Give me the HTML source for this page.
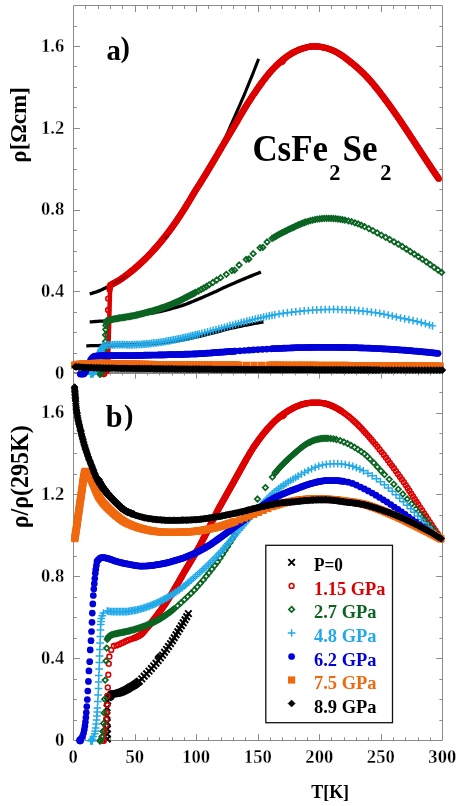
<!DOCTYPE html>
<html><head><meta charset="utf-8"><title>CsFe2Se2 resistivity</title>
<style>
html,body{margin:0;padding:0;background:#fff;}
svg{display:block;font-family:"Liberation Serif",serif;font-weight:bold;will-change:transform;}
</style></head><body>
<svg width="457" height="806" viewBox="0 0 457 806">
<rect width="457" height="806" fill="#fff"/>
<defs>
<marker id="mr" markerUnits="userSpaceOnUse" markerWidth="10" markerHeight="10" refX="5.0" refY="5.0" viewBox="0 0 10 10" overflow="visible"><circle cx="5" cy="5" r="2.4" fill="none" stroke="#dc0000" stroke-width="1.55"/></marker>
<marker id="mg" markerUnits="userSpaceOnUse" markerWidth="10" markerHeight="10" refX="5.0" refY="5.0" viewBox="0 0 10 10" overflow="visible"><path d="M5 2.3 L7.7 5 L5 7.7 L2.3 5 Z" fill="none" stroke="#0b6422" stroke-width="1.7"/></marker>
<marker id="mc" markerUnits="userSpaceOnUse" markerWidth="10" markerHeight="10" refX="5.0" refY="5.0" viewBox="0 0 10 10" overflow="visible"><path d="M5 1.15 V8.85 M1.15 5 H8.85" fill="none" stroke="#22a9e8" stroke-width="1.45"/></marker>
<marker id="mb" markerUnits="userSpaceOnUse" markerWidth="10" markerHeight="10" refX="5.0" refY="5.0" viewBox="0 0 10 10" overflow="visible"><circle cx="5" cy="5" r="3.35" fill="#0000d8"/></marker>
<marker id="mo" markerUnits="userSpaceOnUse" markerWidth="10" markerHeight="10" refX="5.0" refY="5.0" viewBox="0 0 10 10" overflow="visible"><rect x="1.4" y="1.4" width="7.2" height="7.2" fill="#f0690f"/></marker>
<marker id="mk" markerUnits="userSpaceOnUse" markerWidth="10" markerHeight="10" refX="5.0" refY="5.0" viewBox="0 0 10 10" overflow="visible"><path d="M5 1.65 L8.35 5 L5 8.35 L1.65 5 Z" fill="#000000" stroke="#000000" stroke-width="1.0" stroke-linejoin="round"/></marker>
<marker id="mx" markerUnits="userSpaceOnUse" markerWidth="10" markerHeight="10" refX="5.0" refY="5.0" viewBox="0 0 10 10" overflow="visible"><path d="M1.75 1.75 L8.25 8.25 M8.25 1.75 L1.75 8.25" fill="none" stroke="#000000" stroke-width="2.0"/></marker>
</defs>
<path d="M73.5 5.5H442.5V740.5H73.5ZM73.5 373.5H442.5M73.5 372.5H442.5M85.50 5.6v3.3M85.50 373.8v-3.3M85.50 372.1v3.3M85.50 740.6v-3.3M98.50 5.6v3.3M98.50 373.8v-3.3M98.50 372.1v3.3M98.50 740.6v-3.3M110.50 5.6v3.3M110.50 373.8v-3.3M110.50 372.1v3.3M110.50 740.6v-3.3M122.50 5.6v3.3M122.50 373.8v-3.3M122.50 372.1v3.3M122.50 740.6v-3.3M135.50 5.6v6.5M135.50 373.8v-6.5M135.50 372.1v6.5M135.50 740.6v-6.5M147.50 5.6v3.3M147.50 373.8v-3.3M147.50 372.1v3.3M147.50 740.6v-3.3M159.50 5.6v3.3M159.50 373.8v-3.3M159.50 372.1v3.3M159.50 740.6v-3.3M172.50 5.6v3.3M172.50 373.8v-3.3M172.50 372.1v3.3M172.50 740.6v-3.3M184.50 5.6v3.3M184.50 373.8v-3.3M184.50 372.1v3.3M184.50 740.6v-3.3M196.50 5.6v6.5M196.50 373.8v-6.5M196.50 372.1v6.5M196.50 740.6v-6.5M208.50 5.6v3.3M208.50 373.8v-3.3M208.50 372.1v3.3M208.50 740.6v-3.3M221.50 5.6v3.3M221.50 373.8v-3.3M221.50 372.1v3.3M221.50 740.6v-3.3M233.50 5.6v3.3M233.50 373.8v-3.3M233.50 372.1v3.3M233.50 740.6v-3.3M245.50 5.6v3.3M245.50 373.8v-3.3M245.50 372.1v3.3M245.50 740.6v-3.3M258.50 5.6v6.5M258.50 373.8v-6.5M258.50 372.1v6.5M258.50 740.6v-6.5M270.50 5.6v3.3M270.50 373.8v-3.3M270.50 372.1v3.3M270.50 740.6v-3.3M282.50 5.6v3.3M282.50 373.8v-3.3M282.50 372.1v3.3M282.50 740.6v-3.3M295.50 5.6v3.3M295.50 373.8v-3.3M295.50 372.1v3.3M295.50 740.6v-3.3M307.50 5.6v3.3M307.50 373.8v-3.3M307.50 372.1v3.3M307.50 740.6v-3.3M319.50 5.6v6.5M319.50 373.8v-6.5M319.50 372.1v6.5M319.50 740.6v-6.5M331.50 5.6v3.3M331.50 373.8v-3.3M331.50 372.1v3.3M331.50 740.6v-3.3M344.50 5.6v3.3M344.50 373.8v-3.3M344.50 372.1v3.3M344.50 740.6v-3.3M356.50 5.6v3.3M356.50 373.8v-3.3M356.50 372.1v3.3M356.50 740.6v-3.3M368.50 5.6v3.3M368.50 373.8v-3.3M368.50 372.1v3.3M368.50 740.6v-3.3M381.50 5.6v6.5M381.50 373.8v-6.5M381.50 372.1v6.5M381.50 740.6v-6.5M393.50 5.6v3.3M393.50 373.8v-3.3M393.50 372.1v3.3M393.50 740.6v-3.3M405.50 5.6v3.3M405.50 373.8v-3.3M405.50 372.1v3.3M405.50 740.6v-3.3M418.50 5.6v3.3M418.50 373.8v-3.3M418.50 372.1v3.3M418.50 740.6v-3.3M430.50 5.6v3.3M430.50 373.8v-3.3M430.50 372.1v3.3M430.50 740.6v-3.3M73.6 353.50h3.3M442.7 353.50h-3.3M73.6 720.50h3.3M442.7 720.50h-3.3M73.6 332.50h3.3M442.7 332.50h-3.3M73.6 699.50h3.3M442.7 699.50h-3.3M73.6 312.50h3.3M442.7 312.50h-3.3M73.6 679.50h3.3M442.7 679.50h-3.3M73.6 291.50h6.5M442.7 291.50h-6.5M73.6 658.50h6.5M442.7 658.50h-6.5M73.6 271.50h3.3M442.7 271.50h-3.3M73.6 638.50h3.3M442.7 638.50h-3.3M73.6 251.50h3.3M442.7 251.50h-3.3M73.6 617.50h3.3M442.7 617.50h-3.3M73.6 230.50h3.3M442.7 230.50h-3.3M73.6 597.50h3.3M442.7 597.50h-3.3M73.6 210.50h6.5M442.7 210.50h-6.5M73.6 576.50h6.5M442.7 576.50h-6.5M73.6 189.50h3.3M442.7 189.50h-3.3M73.6 556.50h3.3M442.7 556.50h-3.3M73.6 169.50h3.3M442.7 169.50h-3.3M73.6 535.50h3.3M442.7 535.50h-3.3M73.6 148.50h3.3M442.7 148.50h-3.3M73.6 515.50h3.3M442.7 515.50h-3.3M73.6 128.50h6.5M442.7 128.50h-6.5M73.6 494.50h6.5M442.7 494.50h-6.5M73.6 107.50h3.3M442.7 107.50h-3.3M73.6 474.50h3.3M442.7 474.50h-3.3M73.6 87.50h3.3M442.7 87.50h-3.3M73.6 453.50h3.3M442.7 453.50h-3.3M73.6 66.50h3.3M442.7 66.50h-3.3M73.6 433.50h3.3M442.7 433.50h-3.3M73.6 46.50h6.5M442.7 46.50h-6.5M73.6 413.50h6.5M442.7 413.50h-6.5M73.6 26.50h3.3M442.7 26.50h-3.3M73.6 392.50h3.3M442.7 392.50h-3.3" fill="none" stroke="#8a8a8a" stroke-width="1"/>
<text x="64.3" y="51.8" font-size="18.8" text-anchor="end" fill="#000" textLength="23.2" lengthAdjust="spacingAndGlyphs" stroke="#fff" stroke-width="0.3">1.6</text>
<text x="64.3" y="418.3" font-size="18.8" text-anchor="end" fill="#000" textLength="23.2" lengthAdjust="spacingAndGlyphs" stroke="#fff" stroke-width="0.3">1.6</text>
<text x="64.3" y="133.6" font-size="18.8" text-anchor="end" fill="#000" textLength="23.2" lengthAdjust="spacingAndGlyphs" stroke="#fff" stroke-width="0.3">1.2</text>
<text x="64.3" y="500.2" font-size="18.8" text-anchor="end" fill="#000" textLength="23.2" lengthAdjust="spacingAndGlyphs" stroke="#fff" stroke-width="0.3">1.2</text>
<text x="64.3" y="215.4" font-size="18.8" text-anchor="end" fill="#000" textLength="23.2" lengthAdjust="spacingAndGlyphs" stroke="#fff" stroke-width="0.3">0.8</text>
<text x="64.3" y="582.1" font-size="18.8" text-anchor="end" fill="#000" textLength="23.2" lengthAdjust="spacingAndGlyphs" stroke="#fff" stroke-width="0.3">0.8</text>
<text x="64.3" y="297.2" font-size="18.8" text-anchor="end" fill="#000" textLength="23.2" lengthAdjust="spacingAndGlyphs" stroke="#fff" stroke-width="0.3">0.4</text>
<text x="64.3" y="664" font-size="18.8" text-anchor="end" fill="#000" textLength="23.2" lengthAdjust="spacingAndGlyphs" stroke="#fff" stroke-width="0.3">0.4</text>
<text x="64.3" y="379.1" font-size="18.8" text-anchor="end" fill="#000" textLength="9.4" lengthAdjust="spacingAndGlyphs" stroke="#fff" stroke-width="0.3">0</text>
<text x="64.3" y="745.9" font-size="18.8" text-anchor="end" fill="#000" textLength="9.4" lengthAdjust="spacingAndGlyphs" stroke="#fff" stroke-width="0.3">0</text>
<text x="73.2" y="763.2" font-size="18.8" text-anchor="middle" fill="#000" textLength="9.3" lengthAdjust="spacingAndGlyphs" stroke="#fff" stroke-width="0.3">0</text>
<text x="134.7" y="763.2" font-size="18.8" text-anchor="middle" fill="#000" textLength="18.6" lengthAdjust="spacingAndGlyphs" stroke="#fff" stroke-width="0.3">50</text>
<text x="196.2" y="763.2" font-size="18.8" text-anchor="middle" fill="#000" textLength="27.9" lengthAdjust="spacingAndGlyphs" stroke="#fff" stroke-width="0.3">100</text>
<text x="257.8" y="763.2" font-size="18.8" text-anchor="middle" fill="#000" textLength="27.9" lengthAdjust="spacingAndGlyphs" stroke="#fff" stroke-width="0.3">150</text>
<text x="319.3" y="763.2" font-size="18.8" text-anchor="middle" fill="#000" textLength="27.9" lengthAdjust="spacingAndGlyphs" stroke="#fff" stroke-width="0.3">200</text>
<text x="380.8" y="763.2" font-size="18.8" text-anchor="middle" fill="#000" textLength="27.9" lengthAdjust="spacingAndGlyphs" stroke="#fff" stroke-width="0.3">250</text>
<text x="442.3" y="763.2" font-size="18.8" text-anchor="middle" fill="#000" textLength="27.9" lengthAdjust="spacingAndGlyphs" stroke="#fff" stroke-width="0.3">300</text>
<text x="330.2" y="798.4" font-size="18.8" text-anchor="middle" fill="#000" textLength="37.8" lengthAdjust="spacingAndGlyphs">T[K]</text>
<text x="25.9" y="124.9" font-size="24" text-anchor="middle" fill="#000" textLength="75.5" lengthAdjust="spacingAndGlyphs" transform="rotate(-90 25.9 124.9)">&#961;[&#937;cm]</text>
<text x="27.6" y="476.8" font-size="25.2" text-anchor="middle" fill="#000" textLength="103" lengthAdjust="spacingAndGlyphs" transform="rotate(-90 27.6 476.8)">&#961;/&#961;(295K)</text>
<text x="106.4" y="59.9" font-size="30" text-anchor="start" fill="#000" textLength="14.4" lengthAdjust="spacingAndGlyphs">a</text>
<text x="120.6" y="57.3" font-size="29.5" text-anchor="start" fill="#000" textLength="9.4" lengthAdjust="spacingAndGlyphs">)</text>
<text x="105.8" y="427.2" font-size="31" text-anchor="start" fill="#000" textLength="16.8" lengthAdjust="spacingAndGlyphs">b</text>
<text x="124" y="424.8" font-size="29.5" text-anchor="start" fill="#000" textLength="9.4" lengthAdjust="spacingAndGlyphs">)</text>
<text x="252.4" y="160.8" font-size="37.5" text-anchor="start" fill="#000" textLength="75.6" lengthAdjust="spacingAndGlyphs">CsFe</text>
<text x="329.3" y="179.9" font-size="22.5" text-anchor="start" fill="#000" textLength="11.2" lengthAdjust="spacingAndGlyphs">2</text>
<text x="342.6" y="160.8" font-size="37.5" text-anchor="start" fill="#000" textLength="35" lengthAdjust="spacingAndGlyphs">Se</text>
<text x="380.2" y="179.9" font-size="22.5" text-anchor="start" fill="#000" textLength="11.2" lengthAdjust="spacingAndGlyphs">2</text>
<polyline points="89.7,293.8 91.7,293.3 93.7,292.7 95.7,292.1 97.7,291.4 99.7,290.6 101.7,289.8 103.7,288.8 105.7,287.8 107.7,286.7 108,286.5" fill="none" stroke="#000" stroke-width="3.3" stroke-linecap="butt" stroke-linejoin="round"/>
<polyline points="224,141 226,136.4 228,131.8 230,127.2 232,122.7 234,118.2 236,113.7 238,109.1 240,104.6 242,99.9 244,95.3 246,90.5 248,85.6 250,80.7 252,75.8 254,70.7 256,65.6 258,60.5 258.6,58.9" fill="none" stroke="#000" stroke-width="3.1" stroke-linecap="butt" stroke-linejoin="round"/>
<polyline points="89.7,321.9 91.7,321.8 93.7,321.6 95.7,321.5 97.7,321.4 99.7,321.2 101.7,321.1 103.7,321 105.7,320.8 106,320.8" fill="none" stroke="#000" stroke-width="3.3" stroke-linecap="butt" stroke-linejoin="round"/>
<polyline points="150,313.5 152,313.2 154,312.8 156,312.4 158,312 160,311.6 162,311.1 164,310.6 166,310.1 168,309.6 170,309.1 172,308.5 174,308 176,307.4 178,306.8 180,306.2 182,305.6 184,304.9 186,304.2 188,303.4 190,302.6 192,301.8 194,301 196,300.1 198,299.3 200,298.4 202,297.6 204,296.7 206,295.8 208,295 210,294.1 212,293.2 214,292.3 216,291.4 218,290.4 220,289.5 222,288.6 224,287.6 226,286.7 228,285.8 230,284.9 232,284 234,283.2 236,282.3 238,281.4 240,280.6 242,279.7 244,278.9 246,278.1 248,277.2 250,276.4 252,275.6 254,274.8 256,274 258,273.2 260,272.4 260.9,272" fill="none" stroke="#000" stroke-width="3.3" stroke-linecap="butt" stroke-linejoin="round"/>
<polyline points="86.3,345.8 88.3,345.8 90.3,345.7 92.3,345.7 94.3,345.7 96.3,345.6 98.3,345.6 100.3,345.5 102.3,345.5 104.3,345.5 106.3,345.4 108.3,345.4 110.3,345.3 112.3,345.3 114.3,345.2 116.3,345.2 118.3,345.1 120.3,345.1 122.3,345 124.3,344.9 126.3,344.9 128.3,344.8 130.3,344.7 132.3,344.7 134.3,344.6 136.3,344.5 138.3,344.4 140.3,344.3 142.3,344.2 144.3,344.1 146.3,344 148.3,343.9 150.3,343.8 152.3,343.6 154.3,343.5 156.3,343.3 158.3,343.1 160.3,342.9 162.3,342.7 164.3,342.5 166.3,342.2 168.3,342 170.3,341.7 172.3,341.4 174.3,341.1 176.3,340.9 178.3,340.6 180.3,340.3 182.3,339.9 184.3,339.6 186.3,339.2 188.3,338.8 190.3,338.4 192.3,338 194.3,337.5 196.3,337 198.3,336.6 200.3,336.1 202.3,335.6 204.3,335.2 206.3,334.7 208.3,334.2 210.3,333.7 212.3,333.2 214.3,332.7 216.3,332.2 218.3,331.6 220.3,331.1 222.3,330.5 224.3,330 226.3,329.5 228.3,329 230.3,328.5 232.3,328 234.3,327.6 236.3,327.2 238.3,326.7 240.3,326.3 242.3,325.9 244.3,325.5 246.3,325.1 248.3,324.7 250.3,324.3 252.3,323.9 254.3,323.5 256.3,323.1 258.3,322.8 260.3,322.4 262.3,322.1 263.5,321.9" fill="none" stroke="#000" stroke-width="3.3" stroke-linecap="butt" stroke-linejoin="round"/>
<polyline points="107.3,372 108,362 108.7,340 109.3,318 110,292 110.4,287" fill="none" stroke="#dc0000" stroke-width="4.5" stroke-linecap="round"/>
<polyline points="103.2,374 103.8,374 104.3,373.3 105.2,371.8 106,369.5 106.4,366.5 107.5,358 107.6,347 107.8,335 107.9,322 108.1,310 108.2,298.6 109.6,289.5 109.8,287.2 110.2,285.2 111.2,284.7 112.1,284.3 113,283.8 113.9,283.3 114.8,282.8 115.7,282.3 116.6,281.8 117.5,281.3 118.4,280.8 119.3,280.2 120.2,279.6 121.1,279 122,278.4 122.9,277.7 123.8,277.1 124.7,276.4 125.6,275.8 126.5,275.1 127.3,274.5 128.1,273.9 128.9,273.2 129.7,272.6 130.5,272 131.3,271.3 132.1,270.7 132.9,270 133.7,269.4 134.5,268.7 135.3,268 136.1,267.3 136.9,266.6 137.7,265.9 138.5,265.2 139.3,264.5 140.1,263.7 140.9,263 141.7,262.3 142.5,261.5 143.3,260.7 144.1,260 144.9,259.2 145.7,258.4 146.5,257.6 147.3,256.8 148.1,256 148.8,255.3 149.5,254.5 150.2,253.8 150.9,253.1 151.6,252.3 152.3,251.6 153,250.8 153.7,250 154.4,249.2 155.1,248.5 155.8,247.7 156.5,246.9 157.2,246.1 157.9,245.3 158.6,244.4 159.3,243.6 160,242.8 160.7,241.9 161.4,241.1 162.1,240.2 162.8,239.4 163.5,238.5 164.2,237.6 164.9,236.7 165.6,235.8 166.3,234.9 167,234 167.7,233.1 168.4,232.2 169.1,231.3 169.7,230.5 170.3,229.6 170.9,228.8 171.5,228 172.1,227.2 172.7,226.3 173.3,225.5 173.9,224.6 174.5,223.8 175.1,222.9 175.7,222.1 176.3,221.2 176.9,220.3 177.5,219.4 178.1,218.5 178.7,217.6 179.3,216.7 179.9,215.8 180.5,214.9 181.1,214 181.7,213.1 182.3,212.1 182.9,211.2 183.5,210.3 184.1,209.3 184.7,208.4 185.3,207.4 185.9,206.5 186.5,205.5 187.1,204.5 187.7,203.5 188.3,202.6 188.9,201.6 189.5,200.6 190.1,199.6 190.7,198.6 191.3,197.5 191.9,196.5 192.5,195.5 193.1,194.5 193.7,193.5 194.3,192.5 194.9,191.5 195.5,190.5 196.1,189.5 196.7,188.6 197.3,187.6 197.9,186.7 198.5,185.8 199.1,184.8 199.7,183.9 200.3,182.9 200.9,182 201.5,181 202.1,180.1 202.7,179.1 203.3,178.1 203.9,177.1 204.5,176.2 205.1,175.2 205.7,174.2 206.3,173.2 206.9,172.2 207.5,171.2 208.1,170.2 208.7,169.2 209.3,168.2 209.9,167.2 210.5,166.2 211.1,165.2 211.7,164.2 212.3,163.2 212.9,162.2 213.5,161.2 214.1,160.2 214.7,159.2 215.3,158.2 215.9,157.1 216.5,156.1 217.1,155.1 217.7,154.1 218.3,153 218.9,152 219.5,151 220.1,149.9 220.7,148.9 221.3,147.9 221.9,146.8 222.5,145.8 223.1,144.8 223.7,143.8 224.3,142.7 224.9,141.7 225.5,140.7 226.1,139.7 226.7,138.7 227.3,137.7 227.9,136.7 228.5,135.7 229.1,134.7 229.7,133.7 230.3,132.7 230.9,131.7 231.5,130.7 232.1,129.7 232.7,128.7 233.3,127.7 233.9,126.7 234.5,125.7 235.1,124.7 235.7,123.7 236.3,122.6 236.8,121.8 237.3,120.9 237.8,120 238.3,119.1 238.8,118.2 239.3,117.3 239.8,116.5 240.4,115.4 241,114.4 241.6,113.4 242.2,112.4 242.8,111.4 243.4,110.4 244,109.4 244.6,108.4 245.2,107.4 245.8,106.4 246.4,105.5 247,104.5 247.6,103.6 248.2,102.6 248.8,101.7 249.4,100.8 250,99.9 250.6,98.9 251.2,98 251.8,97.1 252.4,96.2 253,95.3 253.6,94.4 254.2,93.6 254.8,92.7 255.4,91.8 256,90.9 256.6,90 257.2,89.1 257.8,88.3 258.4,87.4 259,86.5 259.6,85.7 260.2,84.9 260.8,84 261.4,83.2 262,82.4 262.6,81.6 263.3,80.6 264,79.7 264.7,78.8 265.4,77.9 266.1,77 266.8,76.1 267.5,75.3 268.2,74.4 268.9,73.6 269.6,72.7 270.3,71.9 271,71.1 271.7,70.3 272.4,69.6 273.1,68.8 273.8,68.1 274.6,67.3 275.4,66.5 276.2,65.7 277,64.9 277.8,64.2 278.6,63.4 279.4,62.7 280.2,62 281,61.3 281.8,60.6 282.6,59.9 283.4,59.2 284.2,58.6 285,58 285.8,57.4 286.6,56.8 287.5,56.1 288.4,55.5 289.3,54.9 290.2,54.3 291.1,53.7 292,53.2 292.9,52.7 293.8,52.2 294.7,51.7 295.6,51.3 296.6,50.8 297.6,50.4 298.6,49.9 299.6,49.5 300.6,49.2 301.6,48.8 302.6,48.5 303.6,48.2 304.6,47.9 305.6,47.6 306.6,47.3 307.6,47.1 308.6,46.9 309.6,46.7 310.6,46.5 311.6,46.4 312.6,46.4 313.6,46.4 314.6,46.4 315.6,46.4 316.6,46.4 317.6,46.4 318.6,46.5 319.6,46.7 320.6,46.8 321.6,47 322.6,47.2 323.6,47.4 324.6,47.6 325.6,47.9 326.6,48.1 327.6,48.4 328.6,48.8 329.6,49.1 330.6,49.5 331.6,49.9 332.6,50.3 333.6,50.7 334.6,51.2 335.5,51.6 336.4,52.1 337.3,52.6 338.2,53.1 339.1,53.7 340,54.2 340.9,54.8 341.8,55.4 342.7,56 343.6,56.6 344.5,57.3 345.4,58 346.2,58.6 347,59.2 347.8,59.8 348.6,60.5 349.4,61.1 350.2,61.7 351,62.4 351.8,63 352.6,63.6 353.4,64.3 354.2,64.9 355,65.6 355.8,66.3 356.6,67 357.4,67.7 358.2,68.4 359,69.1 359.8,69.9 360.6,70.6 361.4,71.4 362.2,72.2 363,72.9 363.8,73.7 364.6,74.5 365.3,75.3 366,76 366.7,76.7 367.4,77.5 368.1,78.2 368.8,79 369.5,79.8 370.2,80.5 370.9,81.3 371.6,82.2 372.3,83 373,83.8 373.7,84.7 374.4,85.5 375.1,86.4 375.8,87.2 376.5,88.1 377.2,89 377.9,89.9 378.6,90.7 379.3,91.6 380,92.5 380.7,93.4 381.4,94.4 382.1,95.3 382.8,96.2 383.5,97.1 384.2,98.1 384.8,98.9 385.4,99.7 386,100.5 386.6,101.3 387.2,102.1 387.8,102.9 388.4,103.8 389,104.6 389.6,105.4 390.2,106.3 390.8,107.1 391.4,107.9 392,108.8 392.6,109.6 393.2,110.5 393.8,111.3 394.4,112.2 395,113.1 395.6,113.9 396.2,114.8 396.8,115.6 397.4,116.5 398,117.4 398.6,118.3 399.2,119.1 399.8,120 400.4,120.9 401,121.8 401.6,122.7 402.2,123.6 402.8,124.5 403.4,125.4 404,126.3 404.6,127.2 405.2,128.1 405.8,129 406.4,129.9 407,130.8 407.6,131.7 408.2,132.6 408.8,133.5 409.4,134.4 410,135.3 410.6,136.3 411.2,137.2 411.8,138.1 412.4,139 413,139.9 413.6,140.8 414.2,141.8 414.8,142.7 415.4,143.6 416,144.5 416.6,145.4 417.2,146.3 417.8,147.3 418.4,148.2 419,149.1 419.6,150 420.2,150.9 420.8,151.8 421.4,152.8 422,153.7 422.6,154.6 423.2,155.5 423.8,156.4 424.4,157.3 425,158.2 425.6,159.2 426.2,160.1 426.8,161 427.4,161.9 428,162.8 428.6,163.7 429.2,164.6 429.8,165.5 430.4,166.4 431,167.3 431.6,168.2 432.2,169.1 432.8,170 433.4,170.9 434,171.8 434.6,172.7 435.2,173.5 435.8,174.4 436.4,175.3 437,176.2 437.6,177.1 438.2,177.9 438.8,178.8 281.6,62.1 282.6,61.2 283.4,60" fill="none" stroke="none" marker-start="url(#mr)" marker-mid="url(#mr)" marker-end="url(#mr)"/>
<path d="M112 281.7l3 3m0 -3l-3 3 M114.5 280.5l3 3m0 -3l-3 3 M117 279.3l3 3m0 -3l-3 3 M119.5 278l3 3m0 -3l-3 3 M122 276.5l3 3m0 -3l-3 3 M124.5 274.7l3 3m0 -3l-3 3 M164.1 236.3l3 3m0 -3l-3 3 M165.9 235.1l3 3m0 -3l-3 3" fill="none" stroke="#300" stroke-width="0.5"/>
<polyline points="99.8,374 100.4,374 100.6,373.5 101.8,372 103,369.5 104,366 104.8,361 105.2,354.5 105.4,348 105.5,341.5 105.5,335 105.7,329.5 105.9,325.5 106.2,322.8 106.5,321 107.7,320.6 108.9,320.3 110.1,320 111.3,319.7 112.5,319.4 113.7,319.1 114.9,318.9 116.1,318.7 117.3,318.5 118.5,318.2 119.7,318 120.9,317.8 122.1,317.6 123.3,317.5 124.5,317.3 125.7,317.1 126.9,316.9 128.1,316.7 129.3,316.5 130.5,316.3 131.7,316 132.9,315.8 134.1,315.6 135.3,315.3 136.5,315 137.7,314.8 138.9,314.5 140.1,314.2 141.3,313.9 142.5,313.6 143.7,313.3 144.9,312.9 146.1,312.6 147.3,312.3 148.5,312 149.7,311.7 150.9,311.4 152.1,311.1 153.3,310.7 154.5,310.4 155.7,310 156.9,309.6 158.1,309.2 159.3,308.8 160.5,308.4 161.7,308 162.9,307.6 164.1,307.2 165.3,306.7 166.5,306.3 167.7,305.8 168.9,305.3 170.1,304.9 171.3,304.4 172.5,303.9 173.7,303.4 174.8,302.9 175.9,302.4 177,301.9 178.1,301.4 179.2,300.9 180.3,300.3 181.4,299.8 182.5,299.3 183.6,298.7 184.7,298.1 185.8,297.6 186.9,297 188,296.4 189.1,295.8 190.2,295.2 191.3,294.7 192.4,294.1 193.5,293.6 194.6,293 195.7,292.4 198.4,291 201.1,289.5 203.8,288 206.4,286.5 209,284.9 212.8,282.5 216.7,280 220.6,277.7 226.3,274.3 231.9,270.6 234.6,270.2 239.1,265 246.2,259.4 248.9,259 253.2,253.7 260.1,247.8 262.8,247.4 267.1,242 272.1,238.4 273.5,237.6 274.9,236.8 276.3,236 277.7,235.2 279.1,234.4 280.5,233.7 281.9,232.9 283.3,232.2 284.7,231.5 286.1,230.8 287.5,230.1 288.9,229.4 290.3,228.7 291.7,228.1 293.1,227.5 294.5,226.8 295.9,226.1 297.3,225.4 298.7,224.8 300.1,224.2 301.5,223.7 302.9,223.1 304.4,222.5 305.9,222 308.1,221.3 310.4,220.7 312.7,220.1 315,219.6 317.3,219.2 319.6,218.9 321.9,218.6 324.2,218.4 326.5,218.4 328.8,218.3 331.1,218.4 333.4,218.5 335.7,218.7 338,219 340.3,219.3 342.6,219.7 344.9,220.1 348.3,220.9 351.6,221.7 354.9,222.8 358.1,223.9 361.3,225.2 364.5,226.6 368.8,228.6 373,230.7 377.2,232.9 381.4,235.2 385.6,237.3 389.8,239.5 394,241.8 398.2,244.1 402.3,246.5 406.3,249 410.3,251.5 414.3,254.1 418.3,256.6 422.3,259.2 426.3,261.8 430.2,264.6 434.1,267.3 438,270 441.6,272.4" fill="none" stroke="none" marker-start="url(#mg)" marker-mid="url(#mg)" marker-end="url(#mg)"/>
<polyline points="90.6,374 91.5,374 92.4,374 93,373.5 93.8,372.5 94.5,371.4 95.2,370.3 95.6,369.1 96.1,367.8 96.5,366.6 96.9,365.4 97.2,364.1 97.6,362.9 97.9,361.6 98.2,360.3 98.6,359.1 98.9,357.8 99.2,356.6 99.5,355.3 99.8,354 100.1,352.8 100.5,351.5 100.9,350.3 101.4,349.1 102,347.9 102.7,346.9 104,345.6 105.7,345.4 107.4,345.2 109.1,345.1 110.8,345 112.5,344.9 114.2,344.8 115.9,344.7 117.6,344.7 119.3,344.7 121,344.6 122.7,344.6 124.4,344.7 126.1,344.7 127.8,344.8 129.5,344.8 131.2,344.8 132.9,344.7 134.6,344.7 136.3,344.6 138,344.5 139.7,344.5 141.4,344.3 143.1,344.2 144.8,344.1 146.5,343.9 148.2,343.8 149.9,343.6 151.6,343.4 153.3,343.2 155,343 156.7,342.8 158.4,342.5 160.1,342.3 161.8,342 163.5,341.8 165.2,341.5 166.9,341.2 168.6,340.9 170.3,340.6 172,340.2 173.7,339.9 175.4,339.6 177.1,339.2 178.8,338.9 180.5,338.5 182.2,338.1 183.9,337.7 185.6,337.4 187.3,337 189,336.6 190.7,336.2 192.4,335.7 194.1,335.3 195.8,334.9 197.5,334.5 199.2,334 202,333.3 204.8,332.6 207.6,331.8 210.4,331.1 213.2,330.3 216,329.6 218.8,328.8 221.6,328 224.4,327.3 227.2,326.5 230,325.7 232.8,325 235.6,324.2 238.4,323.5 241.2,322.7 244,322 246.8,321.2 249.6,320.5 252.4,319.8 255.2,319.1 258,318.4 260.8,317.8 263.6,317.1 266.4,316.5 269.2,315.9 272,315.3 274.8,314.8 279,314 283.2,313.3 287.4,312.7 291.6,312.2 295.8,311.7 300,311.3 304.2,310.8 308.4,310.5 312.6,310.1 316.8,309.9 321,309.7 325.2,309.5 329.4,309.5 333.6,309.4 337.8,309.5 342,309.6 346.2,309.8 350.4,310 354.6,310.3 358.8,310.7 363,311.1 367.2,311.5 371.4,312.1 375.6,312.7 379.8,313.4 384,314.2 388.2,315.1 392.3,316 396.4,317 400.5,318 404.7,318.8 408.9,319.7 413.1,320.6 417.2,321.5 421.3,322.6 425.4,323.7 429.5,325 432.5,325.9" fill="none" stroke="none" marker-start="url(#mc)" marker-mid="url(#mc)" marker-end="url(#mc)"/>
<polyline points="80.2,374 81,374 81.9,374 82.7,374 83.6,374 84.5,373.3 85.6,371.8 86.6,369.8 87.6,367.3 88.6,364.8 89.6,362.3 90.6,360.2 91.8,358.4 93,357.2 94,356.5 95,356.1 96.2,356 97.4,355.9 98.6,355.8 99.8,355.8 101,355.7 102.2,355.6 103.4,355.6 104.6,355.6 105.8,355.5 107,355.5 108.2,355.5 109.4,355.5 110.6,355.5 111.8,355.5 113,355.5 114.2,355.5 115.4,355.5 116.6,355.5 117.8,355.5 119,355.5 120.2,355.5 121.4,355.5 122.6,355.5 123.8,355.5 125,355.5 126.2,355.5 127.4,355.5 128.6,355.5 129.8,355.5 131,355.5 132.2,355.5 133.4,355.5 134.6,355.4 135.8,355.4 137,355.4 138.2,355.4 139.4,355.3 140.6,355.3 141.8,355.3 143,355.3 144.2,355.2 145.4,355.2 146.6,355.2 147.8,355.1 149,355.1 150.2,355.1 151.4,355.1 152.6,355 153.8,355 155,355 156.2,355 157.4,355 158.6,354.9 159.8,354.9 161,354.9 162.2,354.9 163.4,354.9 164.6,354.8 165.8,354.8 167,354.8 168.2,354.7 169.4,354.7 170.6,354.7 171.8,354.6 173,354.6 174.2,354.6 175.4,354.5 176.6,354.5 177.8,354.5 179,354.4 180.2,354.4 181.4,354.4 182.6,354.3 183.8,354.3 185,354.2 186.2,354.2 187.4,354.2 188.6,354.1 189.8,354.1 191,354 192.2,354 193.4,353.9 194.6,353.9 195.8,353.9 197,353.8 198.2,353.8 199.4,353.7 200.6,353.6 201.8,353.6 203,353.5 204.2,353.4 205.4,353.3 206.6,353.2 207.8,353.1 209,353 210.2,353 211.4,352.9 212.6,352.8 213.8,352.7 215,352.6 216.2,352.5 217.4,352.4 218.6,352.3 219.8,352.2 221,352.2 222.2,352.1 223.4,352 224.6,351.9 225.8,351.8 227,351.7 228.2,351.6 229.4,351.5 230.6,351.4 231.8,351.4 233,351.3 234.2,351.2 235.4,351.1 239.9,350.8 244.4,350.5 248.9,350.2 253.4,349.9 257.9,349.6 262.4,349.3 266.9,349.1 271.4,348.8 272.9,348.7 274.4,348.7 275.9,348.6 277.4,348.5 278.9,348.4 280.4,348.4 281.9,348.3 283.4,348.2 284.9,348.2 286.4,348.1 287.9,348 289.4,348 290.9,347.9 292.4,347.8 293.9,347.8 295.4,347.7 296.9,347.7 298.4,347.6 299.9,347.6 301.4,347.5 302.9,347.5 304.4,347.5 305.9,347.5 307.4,347.4 308.9,347.4 310.4,347.4 311.9,347.4 313.4,347.3 314.9,347.3 316.4,347.3 317.9,347.3 319.4,347.3 320.9,347.3 322.4,347.3 323.9,347.3 325.4,347.3 326.9,347.3 328.4,347.3 329.9,347.3 331.4,347.3 332.9,347.3 334.4,347.3 335.9,347.3 337.4,347.3 338.9,347.4 340.4,347.4 341.9,347.4 343.4,347.4 344.9,347.4 346.4,347.5 347.9,347.5 349.4,347.5 350.9,347.6 352.4,347.6 353.9,347.6 355.4,347.7 356.9,347.7 358.4,347.8 359.9,347.8 361.4,347.9 362.9,347.9 364.4,348 365.9,348 367.4,348.1 368.9,348.1 370.4,348.2 371.9,348.3 373.4,348.3 374.9,348.4 376.4,348.5 377.9,348.5 379.4,348.6 380.9,348.7 382.4,348.8 383.9,348.9 385.4,348.9 386.9,349 388.4,349.1 389.9,349.2 391.4,349.3 392.9,349.4 394.4,349.5 395.9,349.6 397.4,349.7 398.9,349.8 400.4,349.9 401.9,350 403.4,350.1 404.9,350.2 406.4,350.4 407.9,350.5 409.4,350.6 410.9,350.7 412.4,350.9 413.9,351 415.4,351.1 416.9,351.2 418.4,351.4 419.9,351.5 421.4,351.7 422.9,351.8 424.4,351.9 425.9,352.1 427.4,352.2 428.9,352.4 430.4,352.6 431.9,352.7 433.4,352.9 434.9,353 436.4,353.2 437.9,353.4" fill="none" stroke="none" marker-start="url(#mb)" marker-mid="url(#mb)" marker-end="url(#mb)"/>
<polyline points="74.6,365.2 75.8,364.9 77,364.7 78.2,364.4 79.4,364.3 80.6,364.2 81.8,364.1 83,364 84.2,363.9 85.4,363.8 86.6,363.8 87.8,363.7 89,363.7 90.2,363.6 91.4,363.6 92.6,363.5 93.8,363.5 95,363.5 96.2,363.4 97.4,363.4 98.6,363.4 99.8,363.4 101,363.4 102.2,363.4 103.4,363.4 104.6,363.4 105.8,363.4 107,363.5 108.2,363.5 109.4,363.5 110.6,363.5 111.8,363.5 113,363.6 114.2,363.6 115.4,363.6 116.6,363.7 117.8,363.7 119,363.7 120.2,363.8 121.4,363.8 122.6,363.8 123.8,363.9 125,363.9 126.2,364 127.4,364 128.6,364 129.8,364.1 131,364.1 132.2,364.1 133.4,364.2 134.6,364.2 135.8,364.2 137,364.2 138.2,364.3 139.4,364.3 140.6,364.3 141.8,364.3 143,364.4 144.2,364.4 145.4,364.4 146.6,364.4 147.8,364.4 149,364.5 150.2,364.5 151.4,364.5 152.6,364.5 153.8,364.5 155,364.6 156.2,364.6 157.4,364.6 158.6,364.6 159.8,364.6 161,364.7 162.2,364.7 163.4,364.7 164.6,364.7 165.8,364.7 167,364.7 168.2,364.8 169.4,364.8 170.6,364.8 171.8,364.8 173,364.8 174.2,364.8 175.4,364.9 176.6,364.9 177.8,364.9 179,364.9 180.2,364.9 181.4,364.9 182.6,365 183.8,365 185,365 186.2,365 187.4,365 188.6,365 189.8,365 191,365 192.2,365 193.4,365.1 194.6,365.1 195.8,365.1 197,365.1 198.2,365.1 199.4,365.1 200.6,365.1 201.8,365.1 203,365.1 204.2,365.1 205.4,365.1 206.6,365.1 207.8,365.1 209,365.1 210.2,365.1 211.4,365.2 212.6,365.2 213.8,365.2 215,365.2 216.2,365.2 217.4,365.2 218.6,365.2 219.8,365.2 221,365.2 222.2,365.2 223.4,365.2 224.6,365.2 225.8,365.2 227,365.2 228.2,365.2 229.4,365.2 230.6,365.2 231.8,365.2 233,365.2 234.2,365.2 235.4,365.2 236.6,365.2 237.8,365.2 239,365.2 246.5,365.3 254,365.3 261.5,365.3 269,365.3 270.2,365.3 271.4,365.3 272.6,365.3 273.8,365.3 275,365.3 276.2,365.3 277.4,365.3 278.6,365.3 279.8,365.3 281,365.3 282.2,365.4 283.4,365.4 284.6,365.4 285.8,365.4 287,365.4 288.2,365.4 289.4,365.4 290.6,365.4 291.8,365.4 293,365.4 294.2,365.4 295.4,365.4 296.6,365.4 297.8,365.4 299,365.4 300.2,365.4 301.4,365.4 302.6,365.4 303.8,365.4 305,365.4 306.2,365.4 307.4,365.4 308.6,365.4 309.8,365.4 311,365.4 312.2,365.4 313.4,365.4 314.6,365.4 315.8,365.4 317,365.5 318.2,365.5 319.4,365.5 320.6,365.5 321.8,365.5 323,365.5 324.2,365.5 325.4,365.5 326.6,365.5 327.8,365.5 329,365.5 330.2,365.5 331.4,365.5 332.6,365.5 333.8,365.5 335,365.5 336.2,365.5 337.4,365.5 338.6,365.5 339.8,365.5 341,365.5 342.2,365.5 343.4,365.5 344.6,365.5 345.8,365.5 347,365.5 348.2,365.5 349.4,365.6 350.6,365.6 351.8,365.6 353,365.6 354.2,365.6 355.4,365.6 356.6,365.6 357.8,365.6 359,365.6 360.2,365.6 361.4,365.6 362.6,365.6 363.8,365.6 365,365.6 366.2,365.6 367.4,365.6 368.6,365.6 369.8,365.7 371,365.7 372.2,365.7 373.4,365.7 374.6,365.7 375.8,365.7 377,365.7 378.2,365.7 379.4,365.7 380.6,365.7 381.8,365.7 383,365.7 384.2,365.7 385.4,365.8 386.6,365.8 387.8,365.8 389,365.8 390.2,365.8 391.4,365.8 392.6,365.8 393.8,365.8 395,365.8 396.2,365.8 397.4,365.9 398.6,365.9 399.8,365.9 401,365.9 402.2,365.9 403.4,365.9 404.6,365.9 405.8,365.9 407,365.9 408.2,366 409.4,366 410.6,366 411.8,366 413,366 414.2,366 415.4,366 416.6,366 417.8,366.1 419,366.1 420.2,366.1 421.4,366.1 422.6,366.1 423.8,366.1 425,366.1 426.2,366.1 427.4,366.2 428.6,366.2 429.8,366.2 431,366.2 432.2,366.2 433.4,366.2 434.6,366.2 435.8,366.2 437,366.3 438.2,366.3 439.4,366.3 440.2,366.3" fill="none" stroke="none" marker-start="url(#mo)" marker-mid="url(#mo)" marker-end="url(#mo)"/>
<polyline points="75.2,366.8 76.7,366.9 78.2,367 79.7,367.1 81.2,367.2 82.7,367.3 84.2,367.4 85.7,367.5 87.2,367.6 88.7,367.7 90.2,367.7 91.7,367.7 93.2,367.8 94.7,367.8 96.2,367.9 97.7,367.9 99.2,367.9 100.7,368 102.2,368 103.7,368 105.2,368.1 106.7,368.1 108.2,368.1 109.7,368.2 111.2,368.2 112.7,368.2 114.2,368.2 115.7,368.3 117.2,368.3 118.7,368.3 120.2,368.3 121.7,368.4 123.2,368.4 124.7,368.4 126.2,368.4 127.7,368.5 129.2,368.5 130.7,368.5 132.2,368.5 133.7,368.5 135.2,368.6 136.7,368.6 138.2,368.6 139.7,368.6 141.2,368.6 142.7,368.7 144.2,368.7 145.7,368.7 147.2,368.7 148.7,368.7 150.2,368.7 151.7,368.7 153.2,368.8 154.7,368.8 156.2,368.8 157.7,368.8 159.2,368.8 160.7,368.8 162.2,368.8 163.7,368.9 165.2,368.9 166.7,368.9 168.2,368.9 169.7,368.9 171.2,368.9 172.7,368.9 174.2,369 175.7,369 177.2,369 178.7,369 180.2,369 181.7,369 183.2,369 184.7,369 186.2,369.1 187.7,369.1 189.2,369.1 190.7,369.1 192.2,369.1 193.7,369.1 195.2,369.1 196.7,369.1 198.2,369.1 199.7,369.2 201.2,369.2 202.7,369.2 204.2,369.2 205.7,369.2 207.2,369.2 208.7,369.2 210.2,369.2 211.7,369.2 213.2,369.3 214.7,369.3 216.2,369.3 217.7,369.3 219.2,369.3 220.7,369.3 222.2,369.3 223.7,369.3 225.2,369.3 226.7,369.3 228.2,369.4 229.7,369.4 231.2,369.4 232.7,369.4 234.2,369.4 235.7,369.4 237.2,369.4 238.7,369.4 240.2,369.4 241.7,369.4 243.2,369.4 244.7,369.4 246.2,369.5 247.7,369.5 249.2,369.5 250.7,369.5 252.2,369.5 253.7,369.5 255.2,369.5 256.7,369.5 258.2,369.5 259.7,369.5 261.2,369.5 262.7,369.5 264.2,369.5 265.7,369.6 267.2,369.6 268.7,369.6 270.2,369.6 271.7,369.6 273.2,369.6 274.7,369.6 276.2,369.6 277.7,369.6 279.2,369.6 280.7,369.6 282.2,369.6 283.7,369.6 285.2,369.6 286.7,369.6 288.2,369.7 289.7,369.7 291.2,369.7 292.7,369.7 294.2,369.7 295.7,369.7 297.2,369.7 298.7,369.7 300.2,369.7 301.7,369.7 303.2,369.7 304.7,369.7 306.2,369.7 307.7,369.7 309.2,369.7 310.7,369.7 312.2,369.7 313.7,369.8 315.2,369.8 316.7,369.8 318.2,369.8 319.7,369.8 321.2,369.8 322.7,369.8 324.2,369.8 325.7,369.8 327.2,369.8 328.7,369.8 330.2,369.8 331.7,369.8 333.2,369.8 334.7,369.8 336.2,369.8 337.7,369.8 339.2,369.8 340.7,369.8 342.2,369.9 343.7,369.9 345.2,369.9 346.7,369.9 348.2,369.9 349.7,369.9 351.2,369.9 352.7,369.9 354.2,369.9 355.7,369.9 357.2,369.9 358.7,369.9 360.2,369.9 361.7,369.9 363.2,369.9 364.7,369.9 366.2,369.9 367.7,369.9 369.2,369.9 370.7,369.9 372.2,370 373.7,370 375.2,370 376.7,370 378.2,370 379.7,370 382.7,370 385.7,370 388.7,370 391.7,370 394.7,370 397.7,370 400.7,370 403.7,370 406.7,370 409.7,370 412.7,370.1 415.7,370.1 418.7,370.1 421.7,370.1 424.7,370.1 427.7,370.1 430.7,370.1 433.7,370.1 436.7,370.1 439.7,370.1 442.4,370.1" fill="none" stroke="none" marker-start="url(#mk)" marker-mid="url(#mk)" marker-end="url(#mk)"/>
<polyline points="107.3,739 107.3,734 107.3,729 107.2,722.5 107,715.5 107,707.7 107.6,701 108.4,697.5 109.9,696.6 110.7,695.5 111.6,694.4 112.8,693.8 114.1,693.7 115.4,693.6 116.7,693.4 118,693.1 119.3,692.7 120.6,692.3 121.9,691.8 123.1,691.3 124.3,690.7 125.5,690.1 126.7,689.4 127.9,688.7 129.1,688 130.3,687.3 131.5,686.6 132.7,685.9 133.9,685.2 135,684.5 136.1,683.7 137.2,682.9 138.3,682.1 139.3,681.2 141.8,678.9 144.2,676.3 146.6,673.7 149,671.1 151.4,668.5 153.7,665.9 156,663.3 158.2,660.6 160.4,657.9 162.5,655.1 164.5,652.2 166.5,649.4 168.5,646.5 170.5,643.6 172.4,640.7 174.2,637.8 176,634.8 177.8,631.8 179.6,628.8 181.4,625.8 183.2,622.8 185,619.7 186.7,616.7 188.4,613.6" fill="none" stroke="none" marker-start="url(#mx)" marker-mid="url(#mx)" marker-end="url(#mx)"/>
<polyline points="103.2,740.8 103.8,740.8 103.3,736.6 104.6,731.3 105.7,725.5 106.2,719.5 106.7,713 107.3,705 107.3,695.9 107.8,687.4 108.3,674.8 108.8,663.8 109.4,656.5 111.2,649.9 113.8,646 116.5,645.4 119,644.4 121.4,643.3 123.8,642.2 126.2,641 128.7,640 131.2,639.1 133.7,638.2 134.7,637.8 135.7,637.4 136.7,637 137.7,636.5 138.6,636 139.5,635.5 140.4,635 141.3,634.3 142.1,633.5 142.8,632.7 143.5,631.9 144.2,631 144.9,630.2 145.6,629.4 146.3,628.6 147,627.9 147.7,627 148.4,626.2 149.1,625.4 149.8,624.6 150.5,623.7 151.2,622.8 151.9,621.9 152.6,621 153.3,620.1 154,619.2 154.7,618.3 155.4,617.4 156.1,616.5 156.8,615.6 157.5,614.6 158.1,613.8 158.7,613 159.3,612.2 159.9,611.4 160.5,610.6 161.1,609.8 161.7,609 162.3,608.1 162.9,607.3 163.5,606.4 164.1,605.5 164.7,604.7 165.3,603.8 165.9,602.9 166.5,602 167.1,601.1 167.7,600.2 168.3,599.2 168.9,598.3 169.5,597.3 170.1,596.4 170.7,595.4 171.3,594.4 171.9,593.4 172.5,592.4 173.1,591.4 173.7,590.4 174.3,589.3 174.9,588.3 175.5,587.3 176.1,586.3 176.7,585.2 177.3,584.2 177.9,583.2 178.5,582.1 179,581.3 179.5,580.4 180,579.5 180.5,578.6 181,577.7 181.5,576.9 182,576 182.5,575.1 183.1,574.1 183.7,573.1 184.3,572 184.9,571 185.5,570 186.1,569 186.7,568 187.3,567 187.9,566 188.5,565 189.1,564 189.7,563 190.3,562 190.9,561 191.5,560 192.1,559 192.7,558 193.3,557 193.9,555.9 194.5,554.9 195.1,553.9 195.7,552.9 196.3,551.8 196.9,550.8 197.5,549.8 198.1,548.8 198.6,547.9 199.1,547 199.6,546.1 200.1,545.1 200.6,544.2 201.1,543.2 201.6,542.2 202.1,541.3 202.6,540.3 203.1,539.3 203.6,538.3 204.1,537.4 204.6,536.4 205.1,535.4 205.6,534.4 206.1,533.5 206.6,532.5 207.1,531.5 207.6,530.5 208.1,529.5 208.6,528.5 209.1,527.5 209.6,526.6 210.1,525.6 210.6,524.6 211.1,523.6 211.6,522.6 212.1,521.6 212.6,520.6 213.1,519.6 213.6,518.6 214.1,517.6 214.6,516.6 215.1,515.6 215.6,514.6 216.1,513.6 216.6,512.5 217.1,511.6 217.6,510.6 218.1,509.6 218.6,508.7 219.1,507.8 219.6,506.9 220.1,506 220.6,505.2 221.1,504.3 221.6,503.4 222.1,502.5 222.6,501.6 223.1,500.7 223.6,499.8 224.1,499 224.6,498.1 225.1,497.2 225.6,496.3 226.1,495.4 226.6,494.5 227.1,493.6 227.6,492.7 228.1,491.8 228.6,491 229.1,490.1 229.6,489.2 230.1,488.3 230.6,487.4 231.1,486.5 231.6,485.6 232.1,484.8 232.6,483.9 233.1,483 233.6,482.1 234.1,481.2 234.6,480.3 235.1,479.4 235.6,478.5 236.1,477.6 236.6,476.7 237.1,475.8 237.6,474.9 238.1,474 238.6,473.1 239.1,472.2 239.6,471.3 240.1,470.4 240.6,469.5 241.1,468.6 241.6,467.7 242.1,466.8 242.6,465.9 243.1,465 243.6,464.1 244.1,463.2 244.6,462.3 245.1,461.4 245.6,460.5 246.1,459.7 246.7,458.6 247.3,457.6 247.9,456.6 248.5,455.5 249.1,454.5 249.7,453.5 250.3,452.5 250.9,451.6 251.5,450.6 252.1,449.6 252.7,448.7 253.3,447.7 253.9,446.8 254.5,445.9 255.1,445 255.7,444.1 256.3,443.3 256.9,442.4 257.5,441.6 258.1,440.7 258.7,439.9 259.3,439.1 259.9,438.3 260.6,437.4 261.3,436.4 262,435.5 262.7,434.6 263.4,433.8 264.1,432.9 264.8,432 265.5,431.2 266.2,430.4 266.9,429.5 267.6,428.7 268.3,427.9 269,427.1 269.7,426.4 270.4,425.6 271.1,424.9 271.8,424.1 272.5,423.4 273.3,422.6 274.1,421.8 274.9,421.1 275.7,420.3 276.5,419.6 277.3,418.9 278.1,418.2 278.9,417.5 279.7,416.8 280.5,416.2 281.3,415.6 282.1,415 283,414.3 283.9,413.7 284.8,413 285.7,412.4 286.6,411.9 287.5,411.3 288.4,410.7 289.3,410.2 290.2,409.7 291.1,409.2 292,408.7 292.9,408.2 293.8,407.7 294.8,407.3 295.8,406.8 296.8,406.4 297.8,405.9 298.8,405.6 299.8,405.2 300.8,404.8 301.8,404.5 302.8,404.2 303.8,404 304.8,403.7 305.8,403.5 306.8,403.3 307.8,403.1 308.8,403 309.8,402.9 310.8,402.8 311.8,402.7 312.8,402.7 313.8,402.7 314.8,402.7 315.8,402.7 316.8,402.7 317.8,402.7 318.8,402.7 319.8,402.8 320.8,402.9 321.8,403 322.8,403.1 323.8,403.3 324.8,403.5 325.8,403.8 326.8,404 327.8,404.3 328.8,404.7 329.8,405 330.8,405.4 331.8,405.8 332.8,406.2 333.8,406.7 334.7,407.2 335.6,407.6 336.5,408.1 337.4,408.6 338.3,409.1 339.2,409.7 340.1,410.2 341,410.8 341.9,411.4 343.8,412.7 345.7,414.1 347.6,415.6 349.4,417 351.2,418.6 353,420.2 354.7,421.7 356.4,423.3 358.1,425 359.8,426.7 361.8,428.8 363.7,430.9 365.6,433 367.5,435.1 369.4,437.3 371.3,439.4 373.2,441.7 375.4,444.3 377.5,446.8 379.6,449.4 381.7,452.1 383.8,454.7 385.9,457.5 387.9,460.2 389.9,462.9 391.9,465.6 393.9,468.3 395.9,471.1 397.9,473.9 399.9,476.7 401.9,479.4 403.9,482.3 405.8,485.1 407.6,487.9 409.4,490.7 411.2,493.6 413,496.4 414.8,499.2 416.6,501.9 418.4,504.7 420.3,507.6 422.2,510.5 424.1,513.4 426,516.3 427.9,519.2 429.8,522.2 431.7,525 433.6,527.9 435.5,530.7 437.4,533.5 438.4,534.9 282.2,416.3 283.2,415.5 284,414.4" fill="none" stroke="none" marker-start="url(#mr)" marker-mid="url(#mr)" marker-end="url(#mr)"/>
<polyline points="99.8,740.8 100.4,740.8 100.7,740.5 102,736.6 102.8,731.3 103.6,723.4 104.1,712.9 104.6,699.2 105.2,680.1 106,660.9 106.7,648.1 107.3,639.4 107.8,638.2 108.4,637 109.2,636.1 110.3,635.4 111.5,635 112.7,634.6 113.9,634.2 115.1,633.9 116.3,633.6 117.5,633.4 118.7,633.1 119.9,632.9 121.1,632.7 122.3,632.4 123.5,632.2 124.7,632 125.9,631.7 127.1,631.4 128.3,631.1 129.5,630.8 130.7,630.5 131.9,630.2 133.1,629.9 134.3,629.5 135.5,629.2 136.7,628.8 137.9,628.4 139.1,628 140.3,627.6 141.5,627.2 142.7,626.8 143.9,626.3 145.1,625.8 146.3,625.4 147.5,624.9 148.7,624.4 149.9,623.9 151,623.4 152.1,622.9 153.2,622.4 154.3,621.8 155.4,621.3 156.5,620.8 157.6,620.2 158.7,619.6 159.8,619 160.9,618.3 162,617.6 163.1,616.9 164.1,616.2 165.1,615.5 166.1,614.9 167.1,614.1 168.1,613.4 169.1,612.7 170.1,612 171.1,611.2 172.1,610.4 173.1,609.7 174.1,608.9 177.6,605.9 181,602.8 184.4,599.7 187.7,596.6 191,593.4 194.2,590.2 197.3,586.8 200.3,583.4 203.3,579.9 206.2,576.3 209,572.8 211.9,569.2 214.7,565.6 217.4,562 220,558.2 222.5,554.4 225,550.6 227.5,546.7 230,542.7 232.4,538.9 234.8,535 248.6,513.5 257.5,499 265.4,487.6 272.4,477.1 275.1,473 276.1,471.8 277.1,470.6 278.1,469.4 279.1,468.3 280.2,467.1 281.3,465.9 282.4,464.8 283.5,463.7 284.6,462.5 285.7,461.4 286.8,460.4 287.9,459.3 289,458.3 290.2,457.2 291.4,456.1 292.6,455 293.8,454 295,452.9 296.2,451.9 297.4,450.8 298.6,449.8 299.8,448.8 301,447.8 302.2,446.9 303.5,445.9 304.8,445.1 306.1,444.2 307.4,443.4 308.8,442.7 310.2,442 311.6,441.3 313,440.7 314.5,440.2 316,439.7 317.5,439.3 319,439 320.5,438.7 322,438.5 323.5,438.3 325,438.3 326.5,438.3 328,438.3 330.8,438.5 333.6,438.9 336.4,439.5 340.2,440.6 343.9,442 347.5,443.6 351,445.3 354.5,447.3 357.9,449.4 361.2,451.6 364.4,453.8 367.3,456.4 370.1,459.2 373.8,462.9 377.4,466.9 380.9,470.8 384.5,474.6 389.2,479.3 393.8,484.2 398.3,489.2 402.8,494.1 407.3,499 411.7,503.9 416,508.9 420.3,514 424.6,519.1 428.9,524.2 433.1,529.3 437,534.1" fill="none" stroke="none" marker-start="url(#mg)" marker-mid="url(#mg)" marker-end="url(#mg)"/>
<polyline points="90.6,740.8 91.5,740.8 92.4,740.8 92,739.2 93.4,736.5 94.7,733.8 95.2,730.9 95.7,727.9 96.2,724 96.6,720 96.9,716 97.2,712 97.4,708 97.8,701.5 98.1,695 98.5,688.5 98.6,682 98.8,675.6 99.2,669.1 99.4,662.6 99.6,656.1 99.8,649.6 100.1,643.1 100.3,636.6 100.5,630.1 100.7,624.6 101,621.6 101.2,618.6 102.2,615.8 103.4,613 107.3,611 108.8,611.3 110.3,611.5 111.8,611.7 113.3,611.7 114.8,611.7 116.3,611.7 117.8,611.7 119.3,611.7 120.8,611.7 122.3,611.7 123.8,611.7 125.3,611.7 126.8,611.6 128.3,611.4 129.8,611.1 131.3,610.9 132.8,610.6 134.3,610.4 135.8,610.1 137.3,609.8 138.8,609.4 140.3,609 141.8,608.6 143.3,608.1 144.8,607.7 146.3,607.1 147.8,606.6 149.3,606.1 150.8,605.5 152.2,604.9 153.6,604.4 155,603.8 156.4,603.1 157.8,602.5 159.2,601.8 160.6,601.1 162,600.4 163.4,599.7 164.8,598.9 166.2,598.2 167.6,597.4 168.9,596.6 170.7,595.5 172.4,594.4 174.1,593.3 175.8,592.2 177.5,591 179.2,589.8 180.9,588.5 182.5,587.3 184.1,586 185.7,584.8 187.3,583.4 188.9,582.1 191.1,580.2 193.2,578.3 195.4,576.4 197.6,574.5 199.8,572.6 201.9,570.7 204,568.8 206.1,566.8 208.2,564.8 210.2,562.8 212.2,560.8 214.2,558.8 216.2,556.7 218.2,554.6 220.1,552.5 222,550.4 223.9,548.2 225.8,546 227.7,543.8 229.6,541.6 231.5,539.3 233.4,537.1 235.3,534.8 237.2,532.6 239.1,530.3 241,528 242.9,525.8 244.8,523.6 246.7,521.3 248.6,519.1 250.5,516.9 252.4,514.7 254.3,512.6 256.2,510.4 258.1,508.3 260,506.3 262,504.1 264,502 266,500 268,498 270.1,495.9 272.2,493.9 274.3,492.1 276.5,490.3 278.8,488.5 281.1,486.8 283.4,485.2 285.8,483.6 288.2,482 290.6,480.5 293.1,479.1 295.6,477.7 298.1,476.2 301.4,474.2 304.7,472.3 308.1,470.5 311.6,468.9 315.2,467.3 318.8,466 322.5,465 326.3,464.3 330.1,463.9 333.9,463.7 337.7,463.7 341.5,464 345.3,464.5 349.1,465.3 352.8,466.3 356.4,467.7 359.9,469.2 363.4,470.8 367.9,473.3 372.2,475.8 376.4,478.7 380.5,481.7 384.5,484.8 388.4,488 392.2,491.3 396,494.8 399.7,498.2 403.4,501.7 407.1,505.2 410.7,508.7 414.3,512.3 417.8,515.9 421.4,519.5 424.9,523.1 428.4,526.8 431.9,530.5 435.4,534.2 437,536" fill="none" stroke="none" marker-start="url(#mc)" marker-mid="url(#mc)" marker-end="url(#mc)"/>
<polyline points="79.6,740.8 80.1,740.8 80.6,740.8 79.7,739.8 81.3,738.3 82.6,736 83.6,733 84.3,729.5 84.9,726 85.4,722 85.9,717.5 86.3,712.5 86.8,706.5 87.3,699.5 87.8,691 88.4,681.4 88.9,670.9 89.7,661.7 90.2,649.9 91,640.7 91.5,631.5 92,622.3 92.3,613.1 92.8,603.9 93.3,595.5 93.8,589 94.3,583.7 94.8,578.5 95.3,573.2 95.8,569.3 96.4,565.4 97,561.4 97.8,560.4 98.6,559.5 99.5,558.6 100.5,557.9 101.7,557.5 102.9,557.5 104.1,557.7 105.3,557.9 106.5,558.1 107.7,558.4 108.9,558.8 110.1,559.2 111.3,559.6 112.5,560.1 113.7,560.5 114.9,560.9 116.1,561.3 117.3,561.7 118.5,562 119.7,562.3 120.9,562.6 122.1,562.9 123.3,563.2 124.5,563.5 125.7,563.7 126.9,563.9 128.1,564.1 129.3,564.3 130.5,564.6 131.7,564.8 132.9,565 134.1,565.2 135.3,565.5 136.5,565.7 137.7,565.8 138.9,566 140.1,566.1 141.3,566.1 142.5,566.1 143.7,566.1 144.9,566 146.1,566 147.3,565.9 148.5,565.8 149.7,565.7 150.9,565.6 152.1,565.4 153.3,565.3 154.5,565.1 155.7,564.9 156.9,564.7 158.1,564.5 159.3,564.3 160.5,564.1 161.7,563.9 162.9,563.7 164.1,563.4 165.3,563.2 166.5,562.9 167.7,562.6 168.9,562.3 170.1,562 171.3,561.6 172.5,561.3 173.7,560.9 174.9,560.6 176.1,560.2 177.3,559.8 178.5,559.5 179.7,559.1 180.9,558.8 182.1,558.4 183.3,558 184.5,557.5 185.7,557.1 186.9,556.7 188.1,556.2 189.3,555.7 190.5,555.2 191.7,554.7 192.8,554.3 193.9,553.7 195,553.2 196.1,552.6 197.2,552.1 198.3,551.5 199.4,550.9 200.5,550.3 201.6,549.7 202.7,549.1 203.8,548.5 204.9,547.9 206,547.2 207.1,546.6 208.2,545.9 209.3,545.3 210.4,544.5 211.4,543.9 212.4,543.2 213.4,542.5 214.4,541.8 215.4,541.1 216.4,540.4 217.4,539.7 218.4,538.9 219.4,538.2 220.4,537.5 221.4,536.8 222.4,536 223.4,535.3 224.4,534.6 225.4,533.8 226.4,533.1 227.4,532.3 228.4,531.6 229.4,530.9 230.4,530.1 231.4,529.4 232.4,528.6 233.4,527.9 234.4,527.1 235.4,526.4 236.4,525.6 237.4,524.9 238.4,524.2 239.4,523.4 240.4,522.7 241.4,521.9 242.4,521.2 243.4,520.4 244.4,519.7 245.4,519 246.4,518.2 247.4,517.5 248.4,516.8 249.4,516 250.4,515.2 251.4,514.4 252.4,513.7 253.4,512.9 254.4,512.1 255.4,511.3 256.4,510.5 257.4,509.7 258.4,509 259.4,508.2 260.4,507.4 261.4,506.7 262.4,505.9 263.4,505.2 264.4,504.4 265.4,503.7 266.4,503 267.4,502.2 268.4,501.5 269.4,500.9 270.5,500.2 271.6,499.5 272.7,498.8 273.8,498.2 274.9,497.6 276,497.1 277.1,496.5 278.2,496 279.3,495.5 280.4,495 281.5,494.5 282.7,494 283.9,493.5 285.1,493 286.3,492.5 287.5,492 288.7,491.5 289.9,491.1 291.1,490.6 292.3,490.2 293.5,489.8 294.7,489.4 295.9,488.9 297.1,488.5 298.3,488.1 299.5,487.6 300.7,487.2 301.9,486.7 303.1,486.2 304.3,485.8 305.5,485.3 306.7,484.9 307.9,484.5 309.1,484.1 310.3,483.8 311.5,483.4 312.7,483.1 313.9,482.8 315.1,482.5 316.3,482.2 317.5,481.9 318.7,481.7 319.9,481.4 321.1,481.2 322.3,481 323.5,480.8 324.7,480.7 325.9,480.6 327.1,480.6 328.3,480.5 329.5,480.5 330.7,480.5 331.9,480.5 333.1,480.5 334.3,480.5 335.5,480.6 336.7,480.6 337.9,480.7 339.1,480.8 340.3,480.9 341.5,481.1 342.7,481.2 343.9,481.4 348.2,482.2 352.4,483.4 356.4,485.1 360.4,487 364.3,488.9 368.2,490.9 372.1,493 375.9,495.2 379.6,497.5 383.3,499.8 387,502.1 390.7,504.5 394.3,507 397.9,509.4 401.5,511.9 405.1,514.4 408.7,517 412.3,519.5 415.9,522.1 419.5,524.7 423.1,527.2 426.7,529.7 430.3,532.1 434,534.5 437.7,536.8 440,538.2" fill="none" stroke="none" marker-start="url(#mb)" marker-mid="url(#mb)" marker-end="url(#mb)"/>
<polyline points="74.8,538.6 75,537.3 75.2,536 75.4,534.7 75.6,533.4 75.8,532.1 76,530.8 76.2,529.4 76.4,528.1 76.6,526.8 76.8,525.4 77,524 77.2,522.7 77.4,521.3 77.6,519.9 77.8,518.5 78,517.1 78.2,515.7 78.4,514.2 78.6,512.8 78.8,511.4 79,509.9 79.2,508.5 79.4,507.1 79.6,505.7 79.8,504.3 80,502.9 80.2,501.6 80.4,500.2 80.6,498.8 80.8,497.5 81,496.1 81.2,494.8 81.4,493.4 81.6,492.1 81.8,490.7 82,489.4 82.2,488 82.4,486.6 82.6,485.1 82.8,483.5 83,482 83.2,480.5 83.4,479 83.6,477.7 83.8,476.5 84.1,475 84.4,473.6 84.7,472.3 85.3,471.3 86.4,471.9 87.3,472.8 88.1,473.7 88.8,474.8 89.4,476 90,477.2 90.6,478.4 91.2,479.7 91.8,480.9 92.4,482.2 92.9,483.3 93.4,484.5 93.9,485.7 94.4,486.9 94.9,488.1 95.4,489.4 95.9,490.6 96.4,491.8 96.9,492.9 97.4,494.1 98,495.3 98.6,496.5 99.3,497.6 100,498.7 100.7,499.7 101.5,500.8 102.3,501.9 103.1,502.9 103.9,503.8 104.7,504.7 105.6,505.7 106.5,506.7 107.4,507.6 108.3,508.5 109.2,509.4 110.1,510.2 111,511 111.9,511.9 112.8,512.7 113.7,513.5 114.6,514.3 115.6,515.2 116.6,516 117.6,516.8 118.6,517.7 119.6,518.4 120.6,519.2 121.6,519.9 122.6,520.6 123.7,521.3 124.8,522 125.9,522.6 127,523.2 128.1,523.7 129.3,524.2 130.5,524.7 131.7,525.2 132.9,525.7 134.1,526.1 135.3,526.6 136.5,527 137.7,527.4 138.9,527.8 140.1,528.2 141.3,528.5 142.5,528.8 143.7,529.1 144.9,529.4 146.1,529.7 147.3,530 148.5,530.2 149.7,530.5 150.9,530.7 152.1,530.9 153.3,531.1 154.5,531.3 155.7,531.4 156.9,531.6 158.1,531.7 159.3,531.8 160.5,531.9 161.7,532 162.9,532.1 164.1,532.2 165.3,532.3 166.5,532.3 167.7,532.4 168.9,532.4 170.1,532.4 171.3,532.4 172.5,532.4 173.7,532.4 174.9,532.4 176.1,532.4 177.3,532.3 178.5,532.3 179.7,532.2 180.9,532.2 182.1,532.1 183.3,532.1 184.5,532.1 185.7,532 186.9,532 188.1,531.9 189.3,531.8 190.5,531.7 191.7,531.6 192.9,531.5 194.1,531.4 195.3,531.3 196.5,531.1 197.7,531 198.9,530.8 200.1,530.7 201.3,530.5 202.5,530.3 203.7,530.1 204.9,529.8 206.1,529.6 207.3,529.4 208.5,529.1 209.7,528.9 210.9,528.6 212.1,528.3 213.3,528.1 214.5,527.8 215.7,527.5 216.9,527.2 218.1,526.9 219.3,526.6 220.5,526.3 221.7,525.9 222.9,525.6 224.1,525.2 225.3,524.8 226.5,524.4 227.7,524 228.9,523.6 230.1,523.2 231.3,522.8 232.5,522.4 233.7,521.9 234.9,521.5 239.7,519.8 244.4,518 249.1,516.2 253.8,514.3 258.5,512.4 263.2,510.4 267.9,508.5 272.6,506.6 275.1,505.6 276.6,505.1 278.1,504.6 279.6,504.1 281.1,503.7 282.6,503.3 284.1,502.9 285.6,502.6 287.1,502.3 288.6,502 290.1,501.6 291.6,501.3 293.1,501.1 294.6,500.8 296.1,500.5 297.6,500.3 299.1,500 300.6,499.8 302.1,499.7 303.6,499.5 305.1,499.4 306.6,499.2 308.1,499.1 309.6,499 311.1,499 312.6,498.9 314.1,498.9 315.6,498.8 317.1,498.8 318.6,498.8 320.1,498.8 321.6,498.9 323.1,498.9 324.6,499 326.1,499.1 327.6,499.2 329.1,499.3 330.6,499.4 332.1,499.5 333.6,499.6 335.1,499.8 336.6,499.9 338.1,500.1 339.6,500.3 341.1,500.5 342.6,500.7 344.1,500.9 345.6,501.1 347.1,501.3 348.6,501.5 350.1,501.7 351.6,501.9 353.1,502.1 354.6,502.4 356.1,502.6 357.6,502.9 359.1,503.2 360.6,503.5 362.1,503.8 363.6,504.2 365.1,504.5 366.6,505 368.1,505.4 369.6,505.9 371.1,506.5 372.6,507 374.1,507.5 375.6,508 377.1,508.6 378.6,509.2 380.1,509.7 381.5,510.3 382.9,510.8 384.3,511.4 385.7,512 387.1,512.6 388.5,513.1 389.9,513.7 391.3,514.3 392.7,515 394.1,515.6 395.5,516.2 396.9,516.8 398.3,517.5 399.7,518.1 401.1,518.8 402.5,519.4 403.9,520.1 405.3,520.8 406.7,521.5 408.1,522.2 409.5,522.9 410.9,523.6 412.3,524.3 413.7,524.9 415.1,525.6 416.5,526.3 417.9,527.1 419.3,527.8 420.7,528.5 422.1,529.2 423.5,529.9 424.9,530.6 426.3,531.3 427.7,531.9 429.1,532.6 430.5,533.4 431.9,534.1 433.3,534.9 434.7,535.6 436.1,536.4 437.5,537.1 438.9,537.9 440.3,538.6 441,539" fill="none" stroke="none" marker-start="url(#mo)" marker-mid="url(#mo)" marker-end="url(#mo)"/>
<polyline points="74.6,387.1 74.7,388.6 74.8,390.1 74.9,391.5 75,393 75.1,394.5 75.2,395.9 75.3,397.3 75.4,398.7 75.5,400 75.6,401.3 75.8,403.8 76,406 76.2,408 76.4,409.6 76.6,411.1 76.8,412.5 77,413.8 77.3,415.6 77.6,417.3 77.9,418.9 78.2,420.4 78.5,421.8 78.8,423.1 79.1,424.4 79.5,426 79.9,427.6 80.3,429.3 80.6,430.5 80.9,431.8 81.3,433.5 81.7,435.1 82.1,436.7 82.5,438.3 82.9,439.8 83.3,441.3 83.7,442.7 84.1,444.2 84.5,445.5 84.9,446.9 85.3,448.2 85.7,449.5 86.1,450.7 86.6,452.2 87.1,453.7 87.6,455.1 88.1,456.5 88.6,457.9 89.1,459.3 89.6,460.6 90.1,461.9 90.6,463.2 91.1,464.4 91.6,465.7 92.1,467 92.6,468.3 93.1,469.6 93.6,470.9 94.1,472.2 94.6,473.5 95.1,474.7 95.6,476 96.1,477.2 96.7,478.6 97.3,479.9 97.9,481.1 98.6,482.4 99.3,483.6 100,484.7 100.7,485.8 101.5,487 102.3,488.2 103.1,489.3 103.9,490.4 104.7,491.4 105.6,492.6 106.5,493.7 107.4,494.7 108.3,495.7 109.2,496.7 110.1,497.7 111,498.6 112,499.7 113,500.7 114,501.7 115,502.7 116,503.7 117,504.7 118,505.6 119,506.5 120,507.4 121,508.3 122.1,509.1 123.2,509.9 124.3,510.7 125.5,511.4 126.7,512 127.9,512.5 129.2,513 130.5,513.5 131.8,514 133.1,514.5 134.4,514.9 135.7,515.3 137,515.7 138.3,516.1 139.6,516.5 140.9,516.8 142.2,517.2 143.5,517.5 144.8,517.8 146.1,518 147.4,518.3 148.7,518.5 150,518.7 151.3,518.9 152.6,519.1 153.9,519.3 155.2,519.4 156.5,519.6 157.8,519.7 159.1,519.8 160.4,519.9 161.7,520 163,520.1 164.3,520.2 165.6,520.3 166.9,520.3 168.2,520.4 169.5,520.4 170.8,520.4 172.1,520.4 173.4,520.4 174.7,520.4 176,520.4 177.3,520.3 178.6,520.3 179.9,520.3 181.2,520.2 182.5,520.2 183.8,520.2 185.1,520.1 186.4,520.1 187.7,520.1 189,520 190.3,520 191.6,519.9 192.9,519.8 194.2,519.7 195.5,519.6 196.8,519.6 198.1,519.5 199.4,519.3 200.7,519.2 202,519.1 203.3,518.9 204.6,518.7 205.9,518.5 207.2,518.3 208.5,518.1 209.8,517.9 211.1,517.7 212.4,517.5 213.7,517.3 215,517.1 216.3,516.9 217.6,516.7 218.9,516.5 220.2,516.3 221.5,516 222.8,515.8 224.1,515.5 225.4,515.2 226.7,515 228,514.7 229.3,514.4 230.6,514.2 231.9,513.9 233.2,513.6 234.5,513.4 235.8,513.1 237.1,512.8 238.4,512.5 239.7,512.2 241,511.9 242.3,511.6 243.6,511.3 244.9,510.9 246.2,510.6 247.5,510.2 248.8,509.9 250.1,509.6 251.4,509.2 252.7,508.9 254,508.6 255.3,508.2 256.6,507.9 257.9,507.6 259.2,507.3 260.5,506.9 261.8,506.6 263.1,506.4 264.4,506.1 265.7,505.8 267,505.5 268.3,505.3 269.6,505 270.9,504.7 272.2,504.5 273.5,504.2 274.8,503.9 276.1,503.7 277.4,503.4 278.7,503.2 280,503 281.3,502.9 282.6,502.7 283.9,502.6 285.2,502.5 286.5,502.4 287.8,502.3 289.1,502.2 290.4,502.1 291.7,502 293,501.9 294.3,501.8 295.6,501.7 296.9,501.5 298.2,501.4 299.5,501.2 300.8,501.1 302.1,501 303.4,500.8 304.7,500.7 306,500.6 307.3,500.5 308.6,500.4 309.9,500.3 311.2,500.2 312.5,500.1 313.8,500.1 315.1,500 316.4,500 317.7,499.9 319,499.9 320.3,499.9 321.6,499.9 322.9,499.9 324.2,499.9 325.5,499.9 326.8,499.9 328.1,500 329.4,500 330.7,500.1 332,500.2 333.3,500.4 334.6,500.5 335.9,500.7 337.2,500.9 338.5,501 339.8,501.2 341.1,501.4 342.4,501.6 343.7,501.8 345,502 346.3,502.2 347.6,502.3 348.9,502.4 350.2,502.6 351.5,502.7 352.8,502.9 354.1,503.1 355.4,503.2 356.7,503.4 358,503.6 359.3,503.8 360.6,504.1 361.9,504.3 363.2,504.5 364.5,504.8 365.8,505.1 367.1,505.4 368.4,505.8 369.7,506.2 371,506.6 372.3,506.9 373.6,507.3 374.9,507.7 376.2,508.2 377.5,508.6 378.8,509 380.1,509.4 381.4,509.9 382.7,510.3 384,510.8 385.3,511.3 386.6,511.7 387.9,512.2 389.2,512.7 390.5,513.2 391.8,513.7 393.1,514.2 394.4,514.7 395.7,515.2 397,515.8 398.3,516.3 399.5,516.8 400.7,517.3 401.9,517.8 403.1,518.4 404.3,518.9 405.5,519.5 406.7,520.1 407.9,520.6 409.1,521.2 410.3,521.8 411.5,522.4 412.7,523 413.9,523.5 415.1,524.1 416.3,524.7 417.5,525.4 418.7,526 419.9,526.6 421.1,527.2 422.3,527.8 423.5,528.5 424.7,529.1 425.9,529.7 427.1,530.4 428.3,531 429.5,531.7 430.7,532.4 431.9,533.1 433.1,533.8 434.3,534.6 435.5,535.3 436.7,536 437.9,536.8 439.1,537.5 440.3,538.2 441.2,538.8" fill="none" stroke="none" marker-start="url(#mk)" marker-mid="url(#mk)" marker-end="url(#mk)"/>
<polyline points="99,479.5 100.3,482 101.7,484.3 103.2,486.6 104.8,488.9 106.4,491 108.2,493.3 110,495.3 111.8,497.3 113.7,499.3 115.7,501.3 117.7,503.3 119.7,505.2 121.7,507 123.8,508.7 126,510.3 128.4,511.6 130.9,512.6 133.5,513.6" fill="none" stroke="none" marker-start="url(#mk)" marker-mid="url(#mk)" marker-end="url(#mk)"/>
<polyline points="158.5,656.5" fill="none" stroke="none" marker-start="url(#mk)" marker-mid="url(#mk)" marker-end="url(#mk)"/>
<rect x="265.8" y="545.3" width="126.7" height="177.4" fill="#fff" stroke="#111" stroke-width="1.3"/>
<polyline points="291.6,562.4" fill="none" stroke="none" marker-start="url(#mx)" marker-mid="url(#mx)" marker-end="url(#mx)"/>
<text x="314" y="571.2" font-size="18.5" text-anchor="start" fill="#000000" textLength="29" lengthAdjust="spacingAndGlyphs">P=0</text>
<polyline points="291.6,585.9" fill="none" stroke="none" marker-start="url(#mr)" marker-mid="url(#mr)" marker-end="url(#mr)"/>
<text x="314" y="594.8" font-size="18.5" text-anchor="start" fill="#dc0000" textLength="71.4" lengthAdjust="spacingAndGlyphs">1.15 GPa</text>
<polyline points="291.6,609.4" fill="none" stroke="none" marker-start="url(#mg)" marker-mid="url(#mg)" marker-end="url(#mg)"/>
<text x="314" y="618.4" font-size="18.5" text-anchor="start" fill="#0b6422" textLength="62.5" lengthAdjust="spacingAndGlyphs">2.7 GPa</text>
<polyline points="291.6,633" fill="none" stroke="none" marker-start="url(#mc)" marker-mid="url(#mc)" marker-end="url(#mc)"/>
<text x="314" y="642" font-size="18.5" text-anchor="start" fill="#22a9e8" textLength="62.5" lengthAdjust="spacingAndGlyphs">4.8 GPa</text>
<polyline points="291.6,656.5" fill="none" stroke="none" marker-start="url(#mb)" marker-mid="url(#mb)" marker-end="url(#mb)"/>
<text x="314" y="665.6" font-size="18.5" text-anchor="start" fill="#0000d8" textLength="62.5" lengthAdjust="spacingAndGlyphs">6.2 GPa</text>
<polyline points="291.6,680" fill="none" stroke="none" marker-start="url(#mo)" marker-mid="url(#mo)" marker-end="url(#mo)"/>
<text x="314" y="689.2" font-size="18.5" text-anchor="start" fill="#f0690f" textLength="62.5" lengthAdjust="spacingAndGlyphs">7.5 GPa</text>
<polyline points="291.6,703.5" fill="none" stroke="none" marker-start="url(#mk)" marker-mid="url(#mk)" marker-end="url(#mk)"/>
<text x="314" y="712.8" font-size="18.5" text-anchor="start" fill="#000000" textLength="62.5" lengthAdjust="spacingAndGlyphs">8.9 GPa</text>
</svg>
</body></html>
